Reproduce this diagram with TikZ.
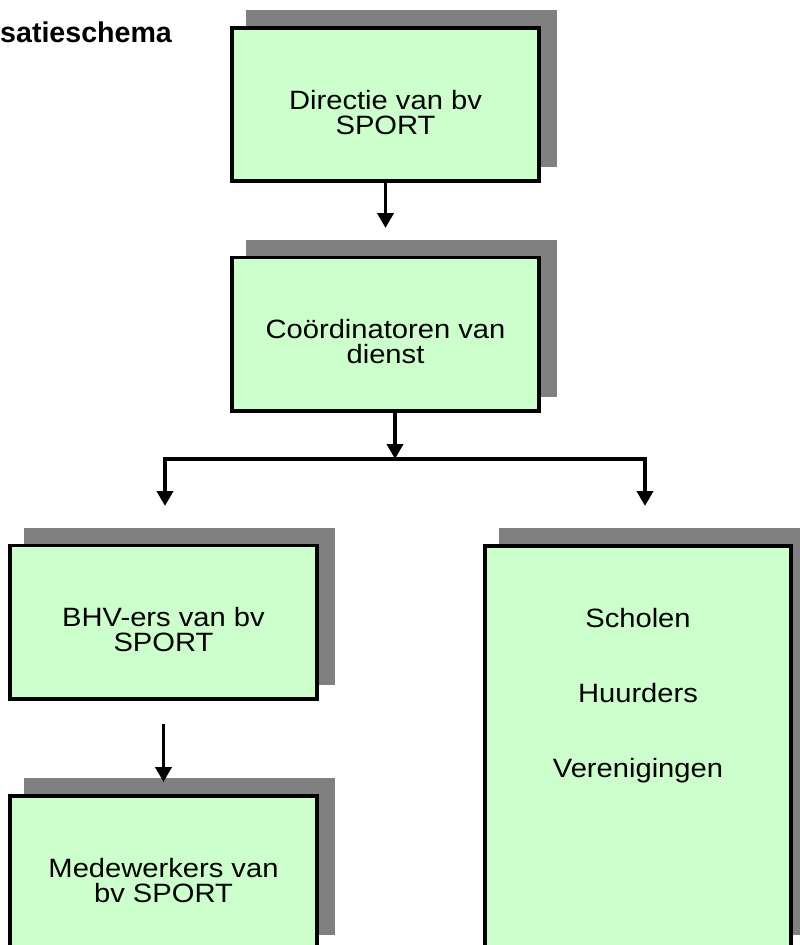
\documentclass[tikz,border=0pt]{standalone}
\usepackage{fontspec}
\setmainfont{Liberation Sans}
\newfontfamily\boxfont[FakeStretch=1.1]{Liberation Sans}
\usetikzlibrary{arrows.meta,shadows}

\begin{document}
\begin{tikzpicture}[x=1pt,y=1pt,yscale=-1,xscale=1,
  orgbox/.style={draw,line width=3.75pt,fill={rgb,255:red,204;green,255;blue,204},
    minimum width=307.25pt,minimum height=153.25pt,align=center,
    font=\boxfont\fontsize{26.5}{25}\selectfont,text height=64pt,text depth=5pt,
    drop shadow={shadow xshift=16pt,shadow yshift=16pt,opacity=1,
      fill={rgb,255:red,128;green,128;blue,128},draw={rgb,255:red,128;green,128;blue,128},line width=3.75pt}},
  arr/.style={line width=3.75pt,-{Triangle[width=16pt,length=15pt]}}]
\useasboundingbox (0,0) rectangle (800,945);

% Title
\node (titel) [anchor=base west,inner sep=0pt,font=\bfseries\fontsize{28.6}{30}\selectfont] at (0,42) {satieschema};

% Boxes
\node (dir) [orgbox] at (385.5,104.5) {Directie van bv\\SPORT};
\node (coo) [orgbox] at (385.5,334) {Coördinatoren van\\dienst};
\node (bhv) [orgbox] at (163.5,622) {BHV-ers van bv\\SPORT};
\node (mede) [orgbox] at (163.5,872.5) {Medewerkers van\\bv SPORT};
\node (sch) [orgbox,minimum width=306.25pt,minimum height=403.25pt] at (638,747.5) {Scholen\\[50pt]Huurders\\[50pt]Verenigingen};

% Connectors
\coordinate (split) at (395,459);
\coordinate (bhvin) at (165,506);
\coordinate (schin) at (645,506);
\draw [arr,shorten >=27.5pt] (dir) -- (coo);
\draw [arr] (coo.south -| split) -- (split);
\draw [arr] (split) -| (bhvin);
\draw [arr] (split) -| (schin);
\draw [arr,shorten <=23pt,shorten >=12pt] (bhv) -- (mede);
\end{tikzpicture}
\end{document}
